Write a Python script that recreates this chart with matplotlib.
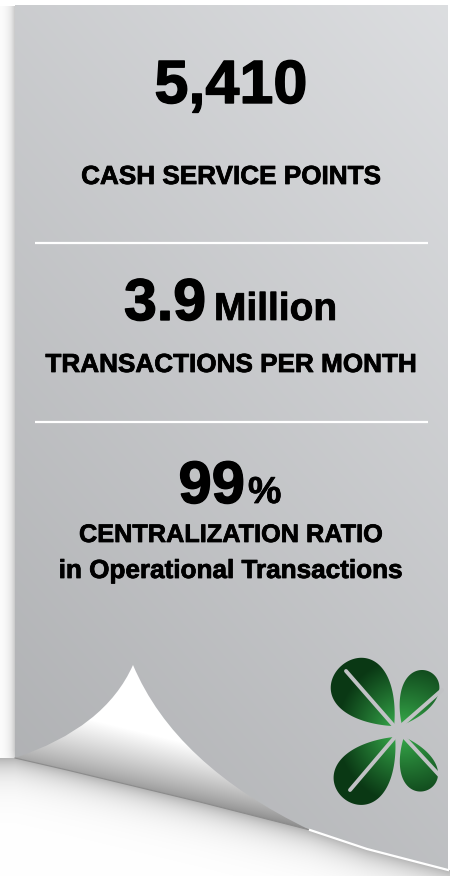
import numpy as np
import matplotlib
matplotlib.use("Agg")
import matplotlib.pyplot as plt
import matplotlib.patheffects as pe
from matplotlib.path import Path
from matplotlib.patches import PathPatch, Polygon

# ---------------- data ----------------
values = ["5,410", "3.9", "99"]
units = ["", "Million", "%"]
labels = [["CASH SERVICE POINTS"],
          ["TRANSACTIONS PER MONTH"],
          ["CENTRALIZATION RATIO", "in Operational Transactions"]]

# ---------------- canvas ----------------
W, H = 450, 876
fig = plt.figure(figsize=(4.5, 8.76), dpi=100)
ax = fig.add_axes([0, 0, 1, 1])
FONT = ['Liberation Sans', 'DejaVu Sans']

# bottom (fold) edge of the sheet
edge_x = np.array([15, 67, 200, 310, 367, 448])
edge_y = np.array([758, 770, 802, 830, 849, 870])

yy, xx = np.mgrid[0:H, 0:W] + 0.5
ey = np.interp(xx, edge_x, edge_y)
d = yy - ey
shade = np.where(d > 0, 0.30 * np.exp(-np.clip(d, 0, None) / 15), 0.0)
left = (xx < 15) & (yy > 6)
lfade = np.clip((790 - yy) / 40, 0, 1)
shade = np.maximum(shade, np.where(left, 0.22 * np.exp(-(15 - xx) / 5) * lfade, 0.0))
bg = 1 - shade
ax.imshow(np.dstack([bg, bg, bg]), extent=[0, W, H, 0], origin='upper',
          zorder=0, interpolation='bilinear')


def panel_val(x, y):
    return 0.80 + 0.07 * x / W - 0.12 * y / H


pv = panel_val(xx, yy)
panel_img = np.clip(np.dstack([pv - 0.006, pv, pv + 0.010]), 0, 1)
pverts = [(15, 5), (448, 5)] + list(zip(edge_x[::-1], edge_y[::-1]))
panel_poly = Polygon(pverts, closed=True, facecolor='none', edgecolor='none')
ax.add_patch(panel_poly)
im = ax.imshow(panel_img, extent=[0, W, H, 0], origin='upper', zorder=1,
               interpolation='bilinear')
im.set_clip_path(panel_poly)

# ---------------- text ----------------
CX = 231
big_fx = [pe.withStroke(linewidth=1.0, foreground='black')]
lab_fx = [pe.withStroke(linewidth=0.55, foreground='black')]


def txt(x, y, s, size, ha, fx):
    ax.text(x, y, s, fontsize=size, fontweight='bold', ha=ha, va='baseline',
            family=FONT, zorder=5, color='black', path_effects=fx)


txt(CX, 103, values[0], 44, 'center', big_fx)
txt(CX, 184, labels[0][0], 18.8, 'center', lab_fx)

txt(206, 320, values[1], 42.5, 'right', big_fx)
txt(214, 320, units[1], 28, 'left', lab_fx)
txt(CX, 372, labels[1][0], 18.8, 'center', lab_fx)

txt(245, 503, values[2], 43, 'right', big_fx)
txt(248, 503, units[2], 27, 'left', lab_fx)
txt(CX, 542, labels[2][0], 18.2, 'center', lab_fx)
txt(CX, 578, labels[2][1], 18.8, 'center', lab_fx)

for ydiv in (243, 422):
    ax.plot([35, 428], [ydiv, ydiv], color='white', lw=1.6, zorder=4,
            solid_capstyle='butt')

# ---------------- page curl ----------------
flap_verts = [(15, 758), (105, 728), (133, 665), (175, 765), (310, 830),
              (200, 802), (67, 770), (15, 758), (15, 758)]
flap_codes = [Path.MOVETO, Path.CURVE3, Path.CURVE3, Path.CURVE3, Path.CURVE3,
              Path.LINETO, Path.LINETO, Path.LINETO, Path.CLOSEPOLY]
flap_patch = PathPatch(Path(flap_verts, flap_codes), facecolor='none',
                       edgecolor='none')
ax.add_patch(flap_patch)
tv = np.array([295.0, 72.0]); tv /= np.linalg.norm(tv)
nv = np.array([72.0, -295.0]); nv /= np.linalg.norm(nv)
dx, dy = xx - 15, yy - 758
dup = dx * nv[0] + dy * nv[1]
sal = dx * tv[0] + dy * tv[1]
k = np.clip(dup / 55, 0, 1)
fv = 0.64 + 0.36 * k ** 0.8 - 0.10 * np.clip(sal / 300, 0, 1) * (1 - k)
fv = np.clip(fv, 0, 1)
fim = ax.imshow(np.dstack([fv, fv, fv]), extent=[0, W, H, 0], origin='upper',
                zorder=6, interpolation='bilinear')
fim.set_clip_path(flap_patch)
ax.plot(edge_x[:4], edge_y[:4], color='#8c8c8c', lw=0.8, zorder=7)
ax.plot(edge_x[3:], edge_y[3:], color='white', lw=1.6, zorder=7)

# ---------------- logo ----------------


def teardrop(tip, ang_deg, L, Wd, n=160):
    th = np.linspace(0, 2 * np.pi, n)
    u = L * (1 - np.cos(th)) / 2
    v = np.sin(th) * ((1 - np.cos(th)) / 2) ** 0.45
    v = v / np.abs(v).max() * Wd / 2
    a = np.deg2rad(ang_deg)
    x = tip[0] + u * np.cos(a) - v * np.sin(a)
    y = tip[1] + u * np.sin(a) + v * np.cos(a)
    return np.column_stack([x, y])


petals = [((394, 726), -131, 80, 58),
          ((402, 725), -62, 60, 36),
          ((395, 737), 130, 80, 54),
          ((404, 737), 66, 58, 36)]
paths = [Path(teardrop(*p), closed=False) for p in petals]
logo_path = Path.make_compound_path(*paths)
logo_patch = PathPatch(logo_path, facecolor='none', edgecolor='none')
ax.add_patch(logo_patch)
lcx, lcy = 399, 731
r = np.hypot(xx - lcx, yy - lcy)
t = np.clip((r - 4) / 70, 0, 1) ** 0.9
t = np.clip(t + 0.15 * np.clip((lcx - xx) / 60, -1, 1), 0, 1)
bright = np.array([0.22, 0.68, 0.30])
dark = np.array([0.04, 0.22, 0.08])
lg = bright[None, None, :] * (1 - t[..., None]) + dark[None, None, :] * t[..., None]
lim = ax.imshow(lg, extent=[0, W, H, 0], origin='upper', zorder=2,
                interpolation='bilinear')
lim.set_clip_path(logo_patch)
gv = panel_val(lcx, lcy)
gap_col = (gv - 0.006, gv, gv + 0.01)
for (x0, y0, x1, y1) in [(394, 726, 346, 671), (402, 725, 442, 690),
                         (395, 737, 350, 790), (404, 737, 440, 776)]:
    ax.plot([x0, x1], [y0, y1], color=gap_col, lw=2.8, zorder=3,
            solid_capstyle='round')

ax.set_xlim(0, W)
ax.set_ylim(H, 0)
ax.set_aspect('auto')
ax.axis('off')
fig.savefig('out.png', dpi=100)
